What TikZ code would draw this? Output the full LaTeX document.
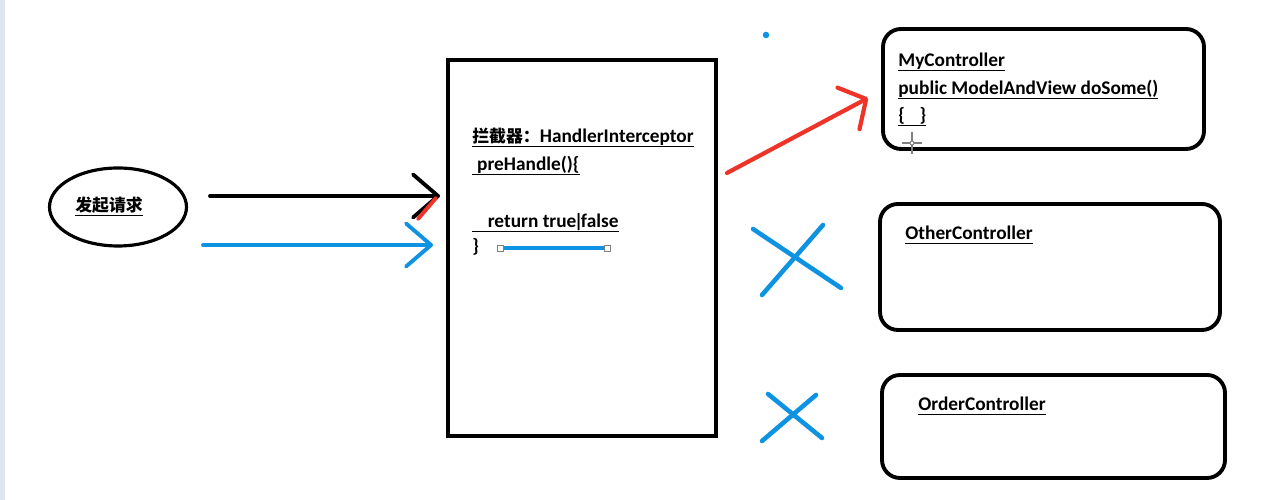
\documentclass[tikz,border=0pt]{standalone}
\usepackage{fontspec}
\setmainfont{Carlito}
\newfontfamily\cjk{Noto Sans CJK SC}
\usepackage{xcolor}
\usetikzlibrary{arrows.meta, positioning, shapes.geometric}

\definecolor{penred}{RGB}{238,52,40}
\definecolor{penblue}{RGB}{14,146,226}
\definecolor{edgegray}{RGB}{222,229,240}

\newcommand{\uln}[1]{\underline{\raisebox{0pt}[\height][0.6pt]{#1}}}
\newcommand{\zh}[1]{{\cjk\fontsize{9.6}{11}\selectfont #1}}

\begin{document}
\begin{tikzpicture}[
    frame/.style={
        rectangle,
        draw,
        line width=2.2pt,
        inner sep=0pt
    },
    ctrl/.style={
        rectangle,
        draw,
        rounded corners=3.6mm,
        line width=2.2pt,
        inner sep=0pt
    },
    code/.style={
        anchor=base west,
        inner sep=0pt,
        font=\fontsize{11}{13}\selectfont\bfseries
    },
    arrow/.style={
        line width=2.2pt,
        line cap=round,
        -{Straight Barb[length=5mm, width=8.6mm, line cap=round, line join=round]}
    },
    cross/.style={penblue, line width=2.6pt, line cap=round}
]

\useasboundingbox (0,0) rectangle (25.66,10);
\fill[edgegray] (0,0) rectangle (0.1,10);

% --- 左：请求 ---
\node[ellipse, draw, line width=1.8pt, minimum width=2.74cm, minimum height=1.56cm,
      inner sep=0pt, font=\bfseries] (req) at (2.36,5.86)
      {\uln{\zh{发起请求}}\hspace*{0.36cm}};

% --- 中央：拦截器 ---
\node[frame, minimum width=5.36cm, minimum height=7.52cm] (icpt) at (11.64,5.04) {};
\node[code] (icname)  at (9.44,7.14) {\uln{\zh{拦截器：}HandlerInterceptor}};
\node[code] (pre)     at (9.44,6.58) {\uln{\hspace*{0.25em}preHandle()\{}};
\node[code] (ret)     at (9.44,5.44) {\uln{\hspace*{0.8em}return true\kern-0.12em|\kern-0.12em false}};
\node[code] (close)   at (9.44,4.94) {\}};

% --- 右：Controller ---
\node[ctrl, minimum width=6.42cm, minimum height=2.4cm]  (myctrl)    at (20.87,8.22) {};
\node[ctrl, minimum width=6.8cm,  minimum height=2.52cm] (otherctrl) at (21.0,4.66) {};
\node[ctrl, minimum width=6.86cm, minimum height=2.06cm] (orderctrl) at (21.07,1.47) {};

\node[code] (myname)  at (17.96,8.66) {\uln{MyController}};
\node[code] (dosome)  at (17.96,8.1)  {\uln{public ModelAndView doSome()}};
\node[code] (body)    at (17.96,7.56) {\uln{\{\hspace*{0.75em}\}}};
\node[code] (othname) at (18.1,5.2)   {\uln{OtherController}};
\node[code] (ordname) at (18.36,1.78) {\uln{OrderController}};

% ============================================================
%  端点
% ============================================================
\coordinate (blkA) at (4.2,6.08);
\coordinate (blkB) at (8.8,6.08);
\coordinate (bluA) at (4.06,5.1);
\coordinate (bluB) at (8.66,5.1);
\coordinate (redA) at (14.54,6.54);
\coordinate (redB) at (17.36,8.04);
\coordinate (tickA) at (8.36,5.62);
\coordinate (tickB) at (8.72,6.04);

% --- 请求 → 拦截器（黑） ---
\draw[arrow] (blkA) -- (blkB);
\draw[penred, line width=2.2pt, line cap=round] (tickA) -- (tickB);

% --- 请求 → 拦截器（蓝） ---
\draw[arrow, penblue] (bluA) -- (bluB);

% --- 拦截器 → MyController（红） ---
\draw[arrow, penred, line width=2.4pt,
      -{Straight Barb[length=4mm, width=9.4mm, line cap=round, line join=round]}] (redA) -- (redB);

% --- 放行失败：叉 ---
\draw[cross] (15.06,5.42) -- (16.82,4.24);
\draw[cross] (15.24,4.1) -- (16.46,5.5);
\draw[cross] (15.36,2.12) -- (16.44,1.24);
\draw[cross] (15.24,1.18) -- (16.32,2.1);

% --- 小记号 ---
\draw[penblue, line width=2.4pt] (10.0,5.04) -- (12.14,5.04);
\draw[gray, fill=white, line width=0.4pt] (9.94,4.98) rectangle (10.06,5.10);
\draw[gray, fill=white, line width=0.4pt] (12.08,4.98) rectangle (12.20,5.10);
\fill[penblue] (15.32,9.3) circle (0.065);
\draw[gray, line width=0.7pt] (18.04,7.14) -- (18.44,7.14) (18.24,6.92) -- (18.24,7.36);
\draw[gray, line width=0.5pt, fill=white] (18.24,7.14) circle (0.04);

\end{tikzpicture}
\end{document}
